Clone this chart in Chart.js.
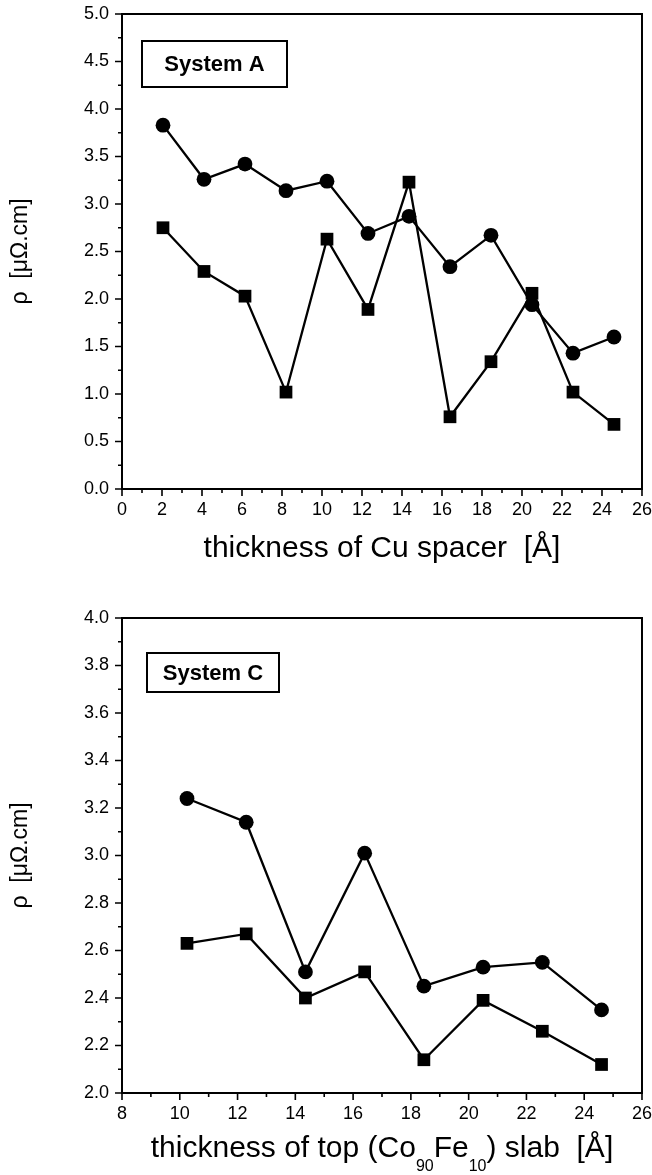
<!DOCTYPE html>
<html>
<head>
<meta charset="utf-8">
<script src="https://cdn.jsdelivr.net/npm/chart.js@4.4.1/dist/chart.umd.min.js"></script>
<style>
  html, body { margin: 0; padding: 0; background: #fff; }
  #wrap { position: relative; width: 652px; height: 1175px; }
  canvas { position: absolute; left: 0; }
</style>
</head>
<body>
<div id="wrap">
  <canvas id="chartA" width="652" height="590" style="top:0"></canvas>
  <canvas id="chartC" width="652" height="585" style="top:590px"></canvas>
</div>
<script>
// System A: resistivity vs Cu spacer thickness
const thicknessA = [2.05, 4.1, 6.15, 8.2, 10.25, 12.3, 14.35, 16.4, 18.45, 20.5, 22.55, 24.6];
const circlesA = [3.83, 3.26, 3.42, 3.14, 3.24, 2.69, 2.87, 2.34, 2.67, 1.94, 1.43, 1.60];
const squaresA = [2.75, 2.29, 2.03, 1.02, 2.63, 1.89, 3.23, 0.76, 1.34, 2.06, 1.02, 0.68];

// System C: resistivity vs top (Co90Fe10) slab thickness
const thicknessC = [10.25, 12.3, 14.35, 16.4, 18.45, 20.5, 22.55, 24.6];
const circlesC = [3.24, 3.14, 2.51, 3.01, 2.45, 2.53, 2.55, 2.35];
const squaresC = [2.63, 2.67, 2.40, 2.51, 2.14, 2.39, 2.26, 2.12];

const FONT = '"Liberation Sans", Arial, Helvetica, sans-serif';
const yTitle = "\u03C1  [\u03BC\u03A9.cm]";

// frame around the plot plus outward major/minor ticks
const frameTicks = {
  id: "frameTicks",
  afterDraw(chart, args, o) {
    const { ctx, chartArea: a, scales: { x, y } } = chart;
    ctx.save();
    ctx.strokeStyle = "#000";
    ctx.lineWidth = 2;
    ctx.strokeRect(a.left, a.top, a.right - a.left, a.bottom - a.top);
    ctx.lineWidth = 1.6;
    ctx.beginPath();
    const isMajor = (v, step) => Math.abs(v / step - Math.round(v / step)) < 1e-6;
    for (let i = 0; x.min + i * o.xMinor <= x.max + 1e-9; i++) {
      const v = x.min + i * o.xMinor;
      const px = x.getPixelForValue(v);
      const len = isMajor(v, o.xMajor) ? 7 : 4;
      ctx.moveTo(px, a.bottom);
      ctx.lineTo(px, a.bottom + len);
    }
    for (let i = 0; y.min + i * o.yMinor <= y.max + 1e-9; i++) {
      const v = y.min + i * o.yMinor;
      const py = y.getPixelForValue(v);
      const len = isMajor(v, o.yMajor) ? 7 : 4;
      ctx.moveTo(a.left, py);
      ctx.lineTo(a.left - len, py);
    }
    ctx.stroke();

    // "System X" label box
    const b = o.box;
    ctx.lineWidth = 2;
    ctx.strokeRect(a.left + b.dx, a.top + b.dy, b.w, b.h);
    ctx.fillStyle = "#000";
    ctx.font = "bold 22px " + FONT;
    ctx.textAlign = "center";
    ctx.textBaseline = "middle";
    ctx.fillText(b.text, a.left + b.dx + b.w / 2, a.top + b.dy + b.h / 2 + 1);

    // x axis title with subscripts
    const big = "30px " + FONT, small = "16px " + FONT;
    let total = 0;
    o.xTitle.forEach((s) => {
      ctx.font = s.sub ? small : big;
      total += ctx.measureText(s.t).width;
    });
    let cx = (a.left + a.right) / 2 - total / 2;
    const base = a.bottom + o.titleGap;
    ctx.textAlign = "left";
    ctx.textBaseline = "alphabetic";
    o.xTitle.forEach((s) => {
      ctx.font = s.sub ? small : big;
      ctx.fillText(s.t, cx, s.sub ? base + 14 : base);
      cx += ctx.measureText(s.t).width;
    });
    ctx.restore();
  },
};

function makeChart(id, xs, circ, sq, cfg) {
  const pts = (ys) => xs.map((v, i) => ({ x: v, y: ys[i] }));
  const line = (data, style, r) => ({
    data,
    borderColor: "#000",
    backgroundColor: "#000",
    borderWidth: 2.3,
    pointStyle: style,
    pointRadius: r,
    pointBorderWidth: 0,
    pointBackgroundColor: "#000",
    tension: 0,
  });
  // transparent tick marks only serve as label offset; visible ticks come from the plugin
  const hiddenTicks = (len) => ({
    drawOnChartArea: false,
    drawTicks: true,
    tickLength: len,
    tickColor: "rgba(0,0,0,0)",
  });
  return new Chart(document.getElementById(id), {
    type: "line",
    data: {
      datasets: [line(pts(circ), "circle", 7.4), line(pts(sq), "rect", 9)],
    },
    options: {
      responsive: false,
      animation: false,
      devicePixelRatio: 1,
      layout: { padding: { left: 0, right: 0, top: cfg.top, bottom: 0 } },
      plugins: {
        legend: { display: false },
        tooltip: { enabled: false },
        frameTicks: cfg.plugin,
      },
      scales: {
        x: {
          type: "linear",
          min: cfg.xMin,
          max: cfg.xMax,
          afterFit: (s) => { s.height = cfg.xHeight; },
          border: { display: false },
          grid: hiddenTicks(10),
          ticks: {
            stepSize: 2,
            padding: 0,
            color: "#000",
            font: { family: FONT, size: 18 },
            maxRotation: 0,
            autoSkip: false,
          },
        },
        y: {
          min: cfg.yMin,
          max: cfg.yMax,
          afterFit: (s) => { s.width = 122; },
          border: { display: false },
          grid: hiddenTicks(13),
          title: {
            display: true,
            text: yTitle,
            color: "#000",
            font: { family: FONT, size: 23 },
            padding: { top: 7, bottom: 0 },
          },
          ticks: {
            stepSize: cfg.yStep,
            padding: 0,
            color: "#000",
            font: { family: FONT, size: 18 },
            callback: (v) => v.toFixed(1),
          },
        },
      },
    },
    plugins: [frameTicks],
  });
}

makeChart("chartA", thicknessA, circlesA, squaresA, {
  top: 14, xHeight: 101, xMin: 0, xMax: 26, yMin: 0, yMax: 5, yStep: 0.5,
  plugin: {
    xMajor: 2, xMinor: 1, yMajor: 0.5, yMinor: 0.25, titleGap: 68,
    box: { dx: 20, dy: 27, w: 145, h: 46, text: "System A" },
    xTitle: [{ t: "thickness of Cu spacer  [\u00C5]" }],
  },
});

makeChart("chartC", thicknessC, circlesC, squaresC, {
  top: 28, xHeight: 82, xMin: 8, xMax: 26, yMin: 2, yMax: 4, yStep: 0.2,
  plugin: {
    xMajor: 2, xMinor: 1, yMajor: 0.2, yMinor: 0.1, titleGap: 64,
    box: { dx: 25, dy: 35, w: 132, h: 39, text: "System C" },
    xTitle: [
      { t: "thickness of top (Co" },
      { t: "90", sub: true },
      { t: "Fe" },
      { t: "10", sub: true },
      { t: ") slab  [\u00C5]" },
    ],
  },
});
</script>
</body>
</html>
